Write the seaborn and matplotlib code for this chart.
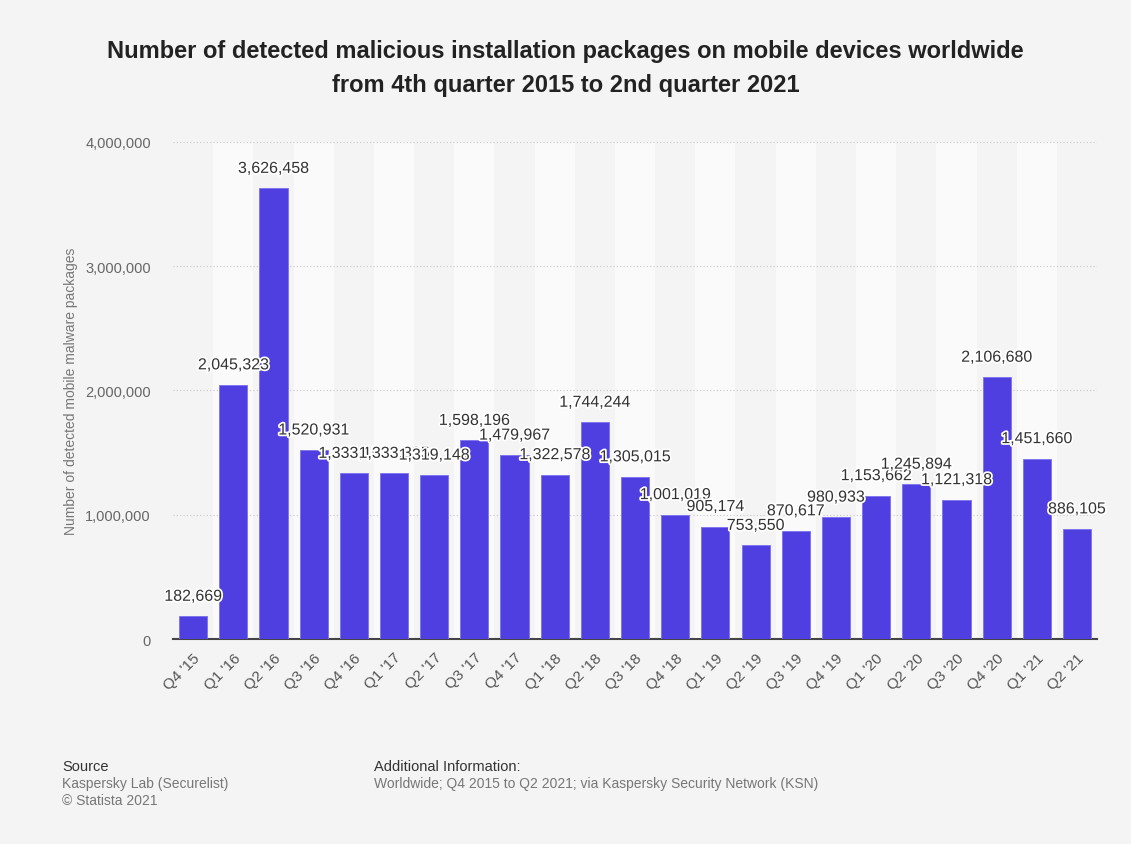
import matplotlib
matplotlib.use("Agg")
import matplotlib.pyplot as plt
import matplotlib.patheffects as pe
import seaborn as sns
import pandas as pd

quarters = ["Q4 '15", "Q1 '16", "Q2 '16", "Q3 '16", "Q4 '16", "Q1 '17", "Q2 '17",
            "Q3 '17", "Q4 '17", "Q1 '18", "Q2 '18", "Q3 '18", "Q4 '18", "Q1 '19",
            "Q2 '19", "Q3 '19", "Q4 '19", "Q1 '20", "Q2 '20", "Q3 '20", "Q4 '20",
            "Q1 '21", "Q2 '21"]
packages = [182669, 2045323, 3626458, 1520931, 1333151, 1333335, 1319148,
            1598196, 1479967, 1322578, 1744244, 1305015, 1001019, 905174,
            753550, 870617, 980933, 1153662, 1245894, 1121318, 2106680,
            1451660, 886105]
y_ticks = [0, 1000000, 2000000, 3000000, 4000000]

df = pd.DataFrame({"Quarter": quarters, "Packages": packages})

sns.set_style("white")
plt.rcParams["font.family"] = ["Liberation Sans", "DejaVu Sans"]

bg = "#f4f4f4"
fig = plt.figure(figsize=(11.31, 8.45), dpi=100, facecolor=bg)
ax = fig.add_axes([0.153, 0.2426, 0.817, 0.5882])
ax.set_facecolor(bg)

# alternating column stripes
for i in range(len(quarters)):
    if i % 2 == 1:
        ax.axvspan(i - 0.5, i + 0.5, color="#fafafa", zorder=0, lw=0)

sns.barplot(data=df, x="Quarter", y="Packages", color="#4f3fe0", width=0.7,
            edgecolor="#7c70ee", linewidth=0.6, saturation=1, ax=ax, zorder=3)

ax.set_xlim(-0.5, len(quarters) - 0.5)
ax.set_ylim(0, 4000000)
ax.set_yticks(y_ticks)
ax.set_yticklabels([f"{v:,}" for v in y_ticks], color="#666666", fontsize=10.5)
for v in y_ticks[1:]:
    ax.axhline(v, color="#c8c8c8", lw=0.8, ls=(0, (1, 2)), zorder=1)

ax.set_xticks(range(len(quarters)))
ax.set_xticklabels(quarters, rotation=45, ha="right", rotation_mode="anchor",
                   color="#555555", fontsize=11)
ax.tick_params(axis="x", length=0, pad=8)
ax.tick_params(axis="y", length=0, pad=16)
ax.set_xlabel("")
ax.set_ylabel("Number of detected mobile malware packages", color="#777777",
              fontsize=10, labelpad=5)

for s in ["top", "right", "left"]:
    ax.spines[s].set_visible(False)
ax.spines["bottom"].set_color("#444444")
ax.spines["bottom"].set_linewidth(1.5)

for i, v in enumerate(packages):
    ax.annotate(f"{v:,}", (i, v), xytext=(0, 9), textcoords="offset points",
                ha="center", va="bottom", fontsize=11.5, color="#333333", zorder=5,
                path_effects=[pe.withStroke(linewidth=2.5, foreground="white")])

fig.text(0.5, 0.919, "Number of detected malicious installation packages on mobile devices worldwide\nfrom 4th quarter 2015 to 2nd quarter 2021",
         ha="center", va="center", fontsize=17, fontweight="bold", color="#222222",
         linespacing=1.65)

fig.text(0.055, 0.092, "Source", fontsize=10.5, color="#333333", va="center")
fig.text(0.055, 0.072, "Kaspersky Lab (Securelist)", fontsize=10, color="#777777", va="center")
fig.text(0.055, 0.052, "© Statista 2021", fontsize=10, color="#777777", va="center")
fig.text(0.331, 0.092, "Additional Information:", fontsize=10.5, color="#333333", va="center")
fig.text(0.331, 0.072, "Worldwide; Q4 2015 to Q2 2021; via Kaspersky Security Network (KSN)",
         fontsize=10, color="#777777", va="center")

fig.savefig("out.png", dpi=100, facecolor=bg)
